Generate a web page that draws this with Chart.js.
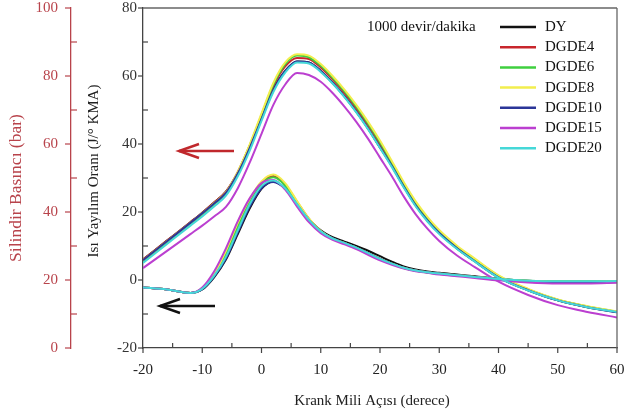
<!DOCTYPE html>
<html>
<head>
<meta charset="utf-8">
<script src="https://cdn.jsdelivr.net/npm/chart.js@4.4.0/dist/chart.umd.min.js"></script>
<style>
  html, body { margin: 0; padding: 0; background: #fff; }
  #wrap { width: 625px; height: 416px; }
</style>
</head>
<body>
<div id="wrap"><canvas id="chart" width="625" height="416"></canvas></div>
<script>
// Crank angle (degrees) shared by every curve
const angles = [-20, -16, -12, -10, -8, -6, -4, -2, 0, 2, 4, 6, 8, 10, 12, 14, 16, 18, 20, 22, 24, 26, 28, 30, 33, 36, 40, 45, 50, 55, 60];

const fuels = ['DY', 'DGDE4', 'DGDE6', 'DGDE8', 'DGDE10', 'DGDE15', 'DGDE20'];
const fuelColors = ['#111111', '#c8262c', '#3fcf3f', '#f2ee4e', '#2b3598', '#bb3fd0', '#45d8d8'];

// Cylinder pressure (bar) - left red axis
const pDY     = [26, 31.5, 37, 39.8, 42.8, 46, 51.5, 59, 67.5, 76, 81.5, 84.3, 84, 81.5, 78, 74, 69.5, 64.5, 59, 53.5, 47.5, 42, 37.5, 33.8, 29.3, 25.5, 20.8, 17, 14, 12, 10.6];
const pDGDE4  = [26, 31.5, 37, 39.8, 42.8, 46, 51.8, 59.5, 68.2, 77, 82.8, 85.3, 85, 82.5, 79, 75, 70.5, 65.5, 60, 54, 48, 42.5, 37.9, 34.1, 29.6, 25.8, 21, 17.1, 14.1, 12.1, 10.6];
const pDGDE6  = [25.5, 31, 36.5, 39.3, 42.3, 45.5, 51.5, 59.5, 68.5, 77.5, 83.5, 86, 85.5, 83, 79.5, 75.5, 71, 66, 60.5, 54.5, 48.3, 42.8, 38.2, 34.4, 29.8, 26, 21.2, 17.2, 14.2, 12.2, 10.7];
const pDGDE8  = [25.8, 31.3, 36.8, 39.6, 42.6, 45.8, 51.8, 59.8, 69, 78, 84, 86.4, 86, 83.5, 80, 76, 71.5, 66.5, 61, 55, 48.8, 43.2, 38.6, 34.7, 30.1, 26.3, 21.4, 17.4, 14.3, 12.3, 10.8];
const pDGDE10 = [25.8, 31.3, 36.8, 39.6, 42.5, 45.6, 51.3, 58.8, 67.3, 75.8, 81.5, 84.3, 84, 81.5, 78, 74, 69.5, 64.5, 59, 53.5, 47.5, 42, 37.5, 33.8, 29.3, 25.5, 20.8, 17, 14, 12, 10.5];
const pDGDE15 = [23.5, 28.5, 33.5, 36, 38.7, 41.5, 47, 54.5, 63, 71.5, 77.5, 80.9, 80.3, 78.3, 75, 71, 66.5, 61.5, 56, 50.5, 44.6, 39.4, 35.1, 31.5, 27.2, 23.8, 19.5, 15.6, 12.6, 10.6, 9];
const pDGDE20 = [25, 30.5, 36, 38.7, 41.6, 44.8, 50.5, 58, 66.8, 75.3, 81, 84, 83.7, 81.2, 77.8, 73.8, 69.3, 64.3, 58.8, 53.2, 47.2, 41.7, 37.2, 33.5, 29.1, 25.4, 20.7, 16.9, 14, 12, 10.6];

// Heat release rate (J/deg CA) - inner black axis
const hDY     = [-2.2, -2.8, -3.8, -2.8, 0.8, 6, 13.5, 21, 26.8, 29, 27, 22.5, 18, 14.6, 12.6, 11.3, 10, 8.6, 7, 5.4, 4, 3.1, 2.5, 2.1, 1.6, 1.1, 0.4, -0.2, -0.5, -0.5, -0.4];
const hDGDE4  = [-2.2, -2.8, -3.8, -2.5, 1.5, 7.5, 15.5, 23, 28.5, 30.6, 28, 23, 18, 14.3, 12.2, 10.9, 9.5, 7.9, 6.2, 4.8, 3.6, 2.8, 2.3, 1.9, 1.4, 0.9, 0.2, -0.4, -0.7, -0.7, -0.6];
const hDGDE6  = [-2.2, -2.8, -3.8, -2.5, 1.6, 7.7, 15.7, 23, 28.3, 30.2, 27.8, 22.8, 17.8, 14.2, 12.1, 10.8, 9.4, 7.8, 6.1, 4.7, 3.5, 2.7, 2.2, 1.8, 1.3, 0.9, 0.3, -0.2, -0.4, -0.4, -0.3];
const hDGDE8  = [-2.2, -2.8, -3.8, -2.4, 1.8, 8.6, 16.8, 23.8, 29, 31, 28.5, 23.2, 18.1, 14.4, 12.2, 10.9, 9.5, 7.9, 6.2, 4.8, 3.6, 2.8, 2.3, 1.9, 1.4, 0.9, 0.2, -0.3, -0.5, -0.5, -0.4];
const hDGDE10 = [-2.2, -2.8, -3.8, -2.7, 1, 6.3, 14, 21.5, 27, 28.8, 26.8, 22.2, 17.6, 14.2, 12.2, 10.9, 9.5, 7.9, 6.2, 4.8, 3.6, 2.8, 2.3, 1.9, 1.4, 0.9, 0.2, -0.5, -0.9, -0.8, -0.6];
const hDGDE15 = [-2.2, -2.8, -3.8, -2.2, 2.5, 9.3, 17.3, 24, 28.5, 29.4, 26.6, 21.6, 17, 13.8, 11.8, 10.5, 9.1, 7.4, 5.8, 4.5, 3.4, 2.6, 2.1, 1.6, 1.1, 0.6, -0.1, -0.7, -1, -1, -0.8];
const hDGDE20 = [-2.2, -2.8, -3.8, -2.6, 1.2, 6.8, 14.6, 22.2, 27.6, 29.3, 27, 22.3, 17.7, 14.3, 12.2, 10.9, 9.5, 7.9, 6.2, 4.8, 3.6, 2.8, 2.3, 1.9, 1.4, 0.9, 0.3, -0.2, -0.4, -0.4, -0.3];

const pressure = [pDY, pDGDE4, pDGDE6, pDGDE8, pDGDE10, pDGDE15, pDGDE20];
const heat = [hDY, hDGDE4, hDGDE6, hDGDE8, hDGDE10, hDGDE15, hDGDE20];

const serif = "'Liberation Serif', 'Times New Roman', serif";
const red = '#b8434b';
const axisGray = '#444';

function points(vals) {
    return angles.map(function(a, i) { return { x: a, y: vals[i] }; });
}

const datasets = [];
fuels.forEach(function(name, i) {
    // later fuels are drawn on top (lower order = drawn later)
    datasets.push({ label: name, data: points(pressure[i]), yAxisID: 'yP', borderColor: fuelColors[i], order: 20 - i });
    datasets.push({ label: name, data: points(heat[i]), yAxisID: 'y', borderColor: fuelColors[i], order: 20 - i });
});
datasets.forEach(function(d) {
    d.borderWidth = 2;
    d.pointRadius = 0;
    d.fill = false;
    d.cubicInterpolationMode = 'monotone';
});

function line(ctx, x1, y1, x2, y2) {
    ctx.beginPath();
    ctx.moveTo(x1, y1);
    ctx.lineTo(x2, y2);
    ctx.stroke();
}

function arrow(ctx, x1, x2, y, color) {
    ctx.strokeStyle = color;
    ctx.lineWidth = 2.5;
    line(ctx, x1, y, x2, y);
    ctx.beginPath();
    ctx.moveTo(x1 + 20, y - 7);
    ctx.lineTo(x1, y);
    ctx.lineTo(x1 + 20, y + 7);
    ctx.stroke();
}

// no overhang padding from the tick labels, so the plot box sits where we want it
function noOverhang(s) {
    s.paddingTop = 0;
    s.paddingBottom = 0;
    s.paddingLeft = 0;
    s.paddingRight = 0;
}

// ticks, frame, legend, titles and arrows
const decor = {
    id: 'decor',
    afterDraw: function(chart) {
        const ctx = chart.ctx;
        const area = chart.chartArea;
        const sx = chart.scales.x, sy = chart.scales.y, sp = chart.scales.yP;
        ctx.save();

        // frame top / right
        ctx.strokeStyle = '#666';
        ctx.lineWidth = 1.3;
        line(ctx, area.left, area.top, area.right, area.top);
        line(ctx, area.right, area.top, area.right, area.bottom);

        // x ticks: majors outward, minors inward
        ctx.strokeStyle = axisGray;
        ctx.lineWidth = 1.2;
        for (let v = -20; v <= 60; v += 5) {
            const px = sx.getPixelForValue(v);
            if (v % 10 === 0) line(ctx, px, area.bottom, px, area.bottom + 5);
            else line(ctx, px, area.bottom, px, area.bottom - 5);
        }
        // heat release axis ticks
        for (let v = -20; v <= 80; v += 10) {
            const py = sy.getPixelForValue(v);
            if (v % 20 === 0) line(ctx, area.left - 5, py, area.left, py);
            else line(ctx, area.left, py, area.left + 5, py);
        }
        // pressure axis ticks
        ctx.strokeStyle = red;
        const rx = sp.right;
        for (let v = 0; v <= 100; v += 10) {
            const py = sp.getPixelForValue(v);
            if (v % 20 === 0) line(ctx, rx - 6, py, rx, py);
            else line(ctx, rx, py, rx + 6, py);
        }

        // legend
        ctx.font = '15px ' + serif;
        ctx.textBaseline = 'middle';
        ctx.fillStyle = '#111';
        ctx.textAlign = 'left';
        ctx.fillText('1000 devir/dakika', 367, 27);
        fuels.forEach(function(name, i) {
            const ly = 27 + i * 20.2;
            ctx.strokeStyle = fuelColors[i];
            ctx.lineWidth = 2.5;
            line(ctx, 500, ly, 536, ly);
            ctx.fillStyle = '#111';
            ctx.fillText(name, 545, ly);
        });

        // arrows
        arrow(ctx, 179, 234, 151, '#c0282c');
        arrow(ctx, 160, 215, 306, '#111');

        // axis titles
        ctx.textAlign = 'center';
        ctx.fillStyle = '#222';
        ctx.fillText('Krank Mili Açısı (derece)', 372, 401);

        ctx.save();
        ctx.translate(94, 171);
        ctx.rotate(-Math.PI / 2);
        ctx.fillText('Isı Yayılım Oranı (J/° KMA)', 0, 0);
        ctx.restore();

        ctx.save();
        ctx.translate(16, 188);
        ctx.rotate(-Math.PI / 2);
        ctx.font = '17.5px ' + serif;
        ctx.fillStyle = red;
        ctx.fillText('Silindir Basıncı (bar)', 0, 0);
        ctx.restore();

        ctx.restore();
    }
};

new Chart(document.getElementById('chart'), {
    type: 'line',
    data: { datasets: datasets },
    plugins: [decor],
    options: {
        responsive: false,
        animation: false,
        devicePixelRatio: 1,
        layout: { padding: { top: 8, right: 8, left: 0, bottom: 0 } },
        plugins: { legend: { display: false }, tooltip: { enabled: false } },
        scales: {
            x: {
                type: 'linear',
                min: -20,
                max: 60,
                ticks: { stepSize: 10, padding: 13, color: '#222', font: { family: serif, size: 15 } },
                grid: { display: false, drawTicks: false },
                border: { color: axisGray, width: 1.3 },
                afterFit: function(s) { s.height = 68; noOverhang(s); }
            },
            y: {
                position: 'left',
                weight: 0,
                min: -20,
                max: 80,
                ticks: { stepSize: 20, padding: 6, color: '#333', font: { family: serif, size: 15 } },
                grid: { display: false, drawTicks: false },
                border: { color: axisGray, width: 1.3 },
                afterFit: function(s) { s.width = 72; noOverhang(s); }
            },
            yP: {
                position: 'left',
                weight: 1,
                min: 0,
                max: 100,
                ticks: { stepSize: 20, padding: 13, color: red, font: { family: serif, size: 15 } },
                grid: { display: false, drawTicks: false },
                border: { color: red, width: 1.3 },
                afterFit: function(s) { s.width = 71; noOverhang(s); }
            }
        }
    }
});
</script>
</body>
</html>
